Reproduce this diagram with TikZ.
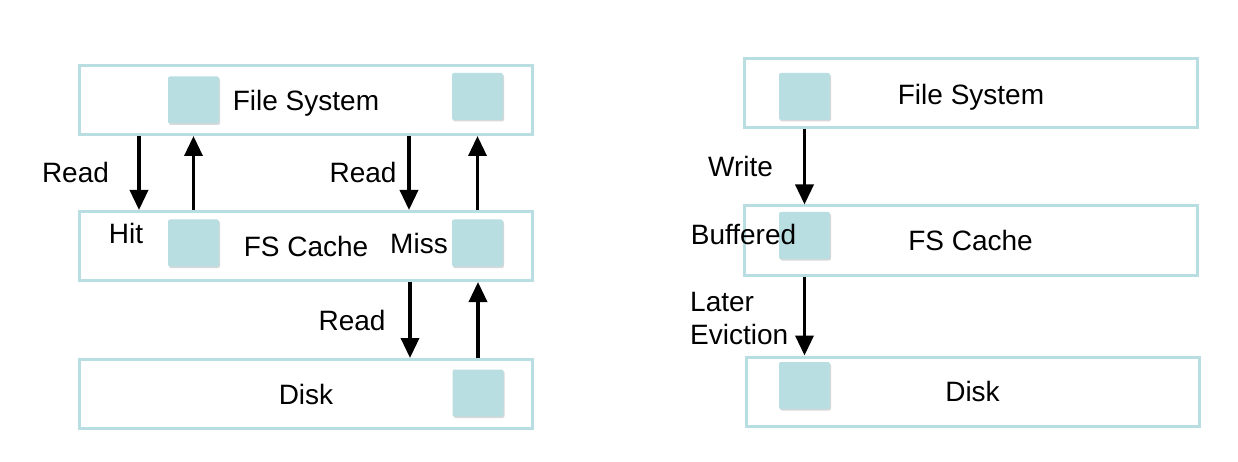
\documentclass[tikz,border=0pt]{standalone}
\usepackage{fontspec}
\setmainfont{Liberation Sans}
\usetikzlibrary{arrows.meta,shadows}
\definecolor{teal1}{RGB}{185,222,226}
\begin{document}
\begin{tikzpicture}[x=1pt,y=-1pt,
  layer/.style={draw=teal1,line width=3pt,fill=white,minimum width=453pt,minimum height=69pt,inner sep=0pt,
    font=\fontsize{28}{33}\selectfont,
    drop shadow={shadow xshift=1pt,shadow yshift=-1.5pt,opacity=0.25}},
  blk/.style={fill=teal1,rounded corners=2pt,minimum width=51pt,minimum height=47pt,inner sep=0pt,
    drop shadow={shadow xshift=1pt,shadow yshift=-1.5pt,opacity=0.3}},
  lbl/.style={font=\fontsize{28}{33}\selectfont,inner sep=0pt},
  arr/.style={line width=3.5pt,-{Triangle[width=18pt,length=20pt]}}]
\path[use as bounding box,fill=white] (0,0) rectangle (1238,462);
% left column
\node[layer] (fsL) at (306,100) {};
\node[layer] (cL) at (306,246) {FS Cache};
\node[layer] (dL) at (306,394) {Disk};
\node[lbl,anchor=base] (fsLt) at (306,110.7) {File System};
\node[blk] (s1) at (193.5,100) {};
\node[blk] (s2) at (477.5,96.5) {};
\node[blk] (s3) at (193.5,243) {};
\node[blk] (s4) at (477.5,243) {};
\node[blk] (s5) at (478,393) {};
\draw[arr] ([xshift=61pt]fsL.south west) -- ([xshift=61pt]cL.north west);
\draw[arr] (cL.north -| s3) -- (fsL.south -| s3);
\draw[arr] ([xshift=331pt]fsL.south west) -- ([xshift=331pt]cL.north west);
\draw[arr] (cL.north -| s4) -- (fsL.south -| s4);
\draw[arr] ([xshift=332pt]cL.south west) -- ([xshift=332pt]dL.north west);
\draw[arr] (dL.north -| s5) -- (cL.south -| s5);
\node[lbl] (r1) at (75.5,172) {Read};
\node[lbl] (r2) at (363,172) {Read};
\node[lbl] (r3) at (352,320) {Read};
\node[lbl] (hit) at (126,233) {Hit};
\node[lbl] (miss) at (419,243) {Miss};
% right column
\node[layer] (fsR) at (970.5,93.5) {};
\node[layer] (cR) at (970.5,240.5) {FS Cache};
\node[layer] (dR) at (972.5,391.5) {Disk};
\node[lbl,anchor=base] (fsRt) at (971,104.3) {File System};
\node[blk] (t1) at (804.5,96.5) {};
\node[blk] (t2) at (804.5,235.5) {};
\node[blk] (t3) at (804.5,385.5) {};
\draw[arr] (fsR.south -| t1) -- (cR.north -| t1);
\draw[arr] (cR.south -| t2) -- (dR.north -| t2);
\node[lbl] (wr) at (740.5,166) {Write};
\node[lbl] (buf) at (743.5,234) {Buffered};
\node[lbl,anchor=west,align=left] (ev) at (690,319) {Later\\Eviction};
\end{tikzpicture}
\end{document}
